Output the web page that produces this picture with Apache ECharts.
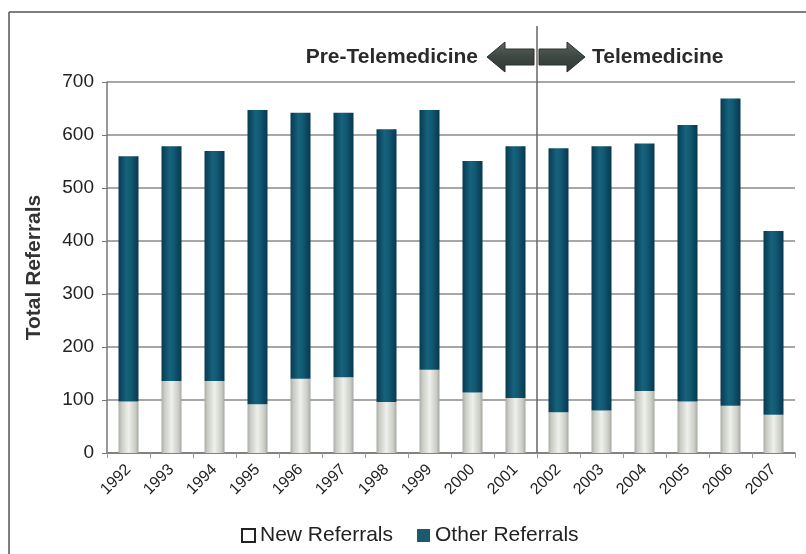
<!DOCTYPE html>
<html>
<head>
<meta charset="utf-8">
<script src="https://cdn.jsdelivr.net/npm/echarts@6/dist/echarts.min.js"></script>
<style>
html,body{margin:0;padding:0;background:#fff;}
#c{width:806px;height:554px;}
</style>
</head>
<body>
<div id="c"></div>
<script>
var years = ['1992','1993','1994','1995','1996','1997','1998','1999','2000','2001','2002','2003','2004','2005','2006','2007'];
var newReferrals = [97,136,136,92,140,143,96,157,114,104,77,80,117,97,89,72];
var otherReferrals = [463,443,434,555,502,499,515,490,437,475,498,499,467,522,580,347];
var yTicks = [0,100,200,300,400,500,600,700];

var FONT = '"Liberation Sans", Arial, sans-serif';
var chart = echarts.init(document.getElementById('c'), null, {renderer:'canvas'});

var grayGrad = new echarts.graphic.LinearGradient(0,0,1,0,[
  {offset:0,color:'#a9ada6'},{offset:0.15,color:'#c9ccc5'},{offset:0.5,color:'#eef0ec'},{offset:0.85,color:'#c9ccc5'},{offset:1,color:'#a3a7a0'}]);
var tealGrad = new echarts.graphic.LinearGradient(0,0,1,0,[
  {offset:0,color:'#083a50'},{offset:0.4,color:'#16627d'},{offset:0.6,color:'#135a74'},{offset:1,color:'#073850'}]);

chart.setOption({
  animation:false,
  backgroundColor:'#fff',
  grid:{left:107,right:11,top:82,bottom:101,containLabel:false},
  legend:{
    left:236, bottom:3, itemGap:24, itemWidth:13, itemHeight:13,
    textStyle:{fontFamily:FONT,fontSize:21,color:'#222'},
    data:[
      {name:'New Referrals',icon:'rect',itemStyle:{color:'#fff',borderColor:'#222',borderWidth:2}},
      {name:'Other Referrals',icon:'rect',itemStyle:{color:'#1a5a6c'}}
    ]
  },
  xAxis:{
    type:'category', data:years,
    axisLine:{lineStyle:{color:'#777',width:1.5}},
    axisTick:{show:true,length:5,lineStyle:{color:'#999'}},
    axisLabel:{rotate:45,fontFamily:FONT,fontSize:16,color:'#222',margin:14,interval:0}
  },
  yAxis:{
    type:'value', min:yTicks[0], max:yTicks[yTicks.length-1], interval:100,
    name:'Total Referrals', nameLocation:'middle', nameGap:62, nameRotate:90,
    nameTextStyle:{fontFamily:FONT,fontSize:21,fontWeight:'bold',color:'#333'},
    axisLine:{show:true,lineStyle:{color:'#777',width:1.5}},
    axisTick:{show:true,length:5,lineStyle:{color:'#777'}},
    axisLabel:{fontFamily:FONT,fontSize:19,color:'#222',margin:13},
    splitLine:{lineStyle:{color:'#8a8a8a',width:1.5}}
  },
  series:[
    {name:'New Referrals',type:'bar',stack:'t',barWidth:20,data:newReferrals,
     itemStyle:{color:grayGrad}},
    {name:'Other Referrals',type:'bar',stack:'t',barWidth:20,data:otherReferrals,
     itemStyle:{color:tealGrad}}
  ]
});

var xa = chart.convertToPixel({xAxisIndex:0},9);
var xb = chart.convertToPixel({xAxisIndex:0},10);
var xd = (xa+xb)/2;
var y0 = chart.convertToPixel({yAxisIndex:0},0);
var cy = 57;
var arrowFill = new echarts.graphic.LinearGradient(0,0,0,1,[
  {offset:0,color:'#5b6661'},{offset:0.5,color:'#3d4843'},{offset:1,color:'#2f3833'}]);
function leftArrow(xr){
  var tip = xr-47, hb = xr-29;
  return [[tip,cy],[hb,cy-15],[hb,cy-8],[xr,cy-8],[xr,cy+8],[hb,cy+8],[hb,cy+15]];
}
function rightArrow(xl){
  var tip = xl+46, hb = xl+28;
  return [[tip,cy],[hb,cy-15],[hb,cy-8],[xl,cy-8],[xl,cy+8],[hb,cy+8],[hb,cy+15]];
}
chart.setOption({
  graphic:[
    {type:'line',shape:{x1:9,y1:12,x2:806,y2:12},style:{stroke:'#555',lineWidth:1.5},silent:true},
    {type:'line',shape:{x1:9,y1:12,x2:9,y2:554},style:{stroke:'#555',lineWidth:1.5},silent:true},
    {type:'line',shape:{x1:xd,y1:26,x2:xd,y2:y0},style:{stroke:'#666',lineWidth:1.5},silent:true,z:10},
    {type:'polygon',shape:{points:leftArrow(xd-3)},style:{fill:arrowFill,stroke:'#2a302d',lineWidth:1},silent:true},
    {type:'polygon',shape:{points:rightArrow(xd+2)},style:{fill:arrowFill,stroke:'#2a302d',lineWidth:1},silent:true},
    {type:'text',x:xd-59,y:cy,style:{text:'Pre-Telemedicine',fontFamily:FONT,fontSize:21,fontWeight:'bold',fill:'#2a2a2a',textAlign:'right',textVerticalAlign:'middle'},silent:true},
    {type:'text',x:xd+55,y:cy,style:{text:'Telemedicine',fontFamily:FONT,fontSize:21,fontWeight:'bold',fill:'#2a2a2a',textAlign:'left',textVerticalAlign:'middle'},silent:true}
  ]
});
</script>
</body>
</html>
